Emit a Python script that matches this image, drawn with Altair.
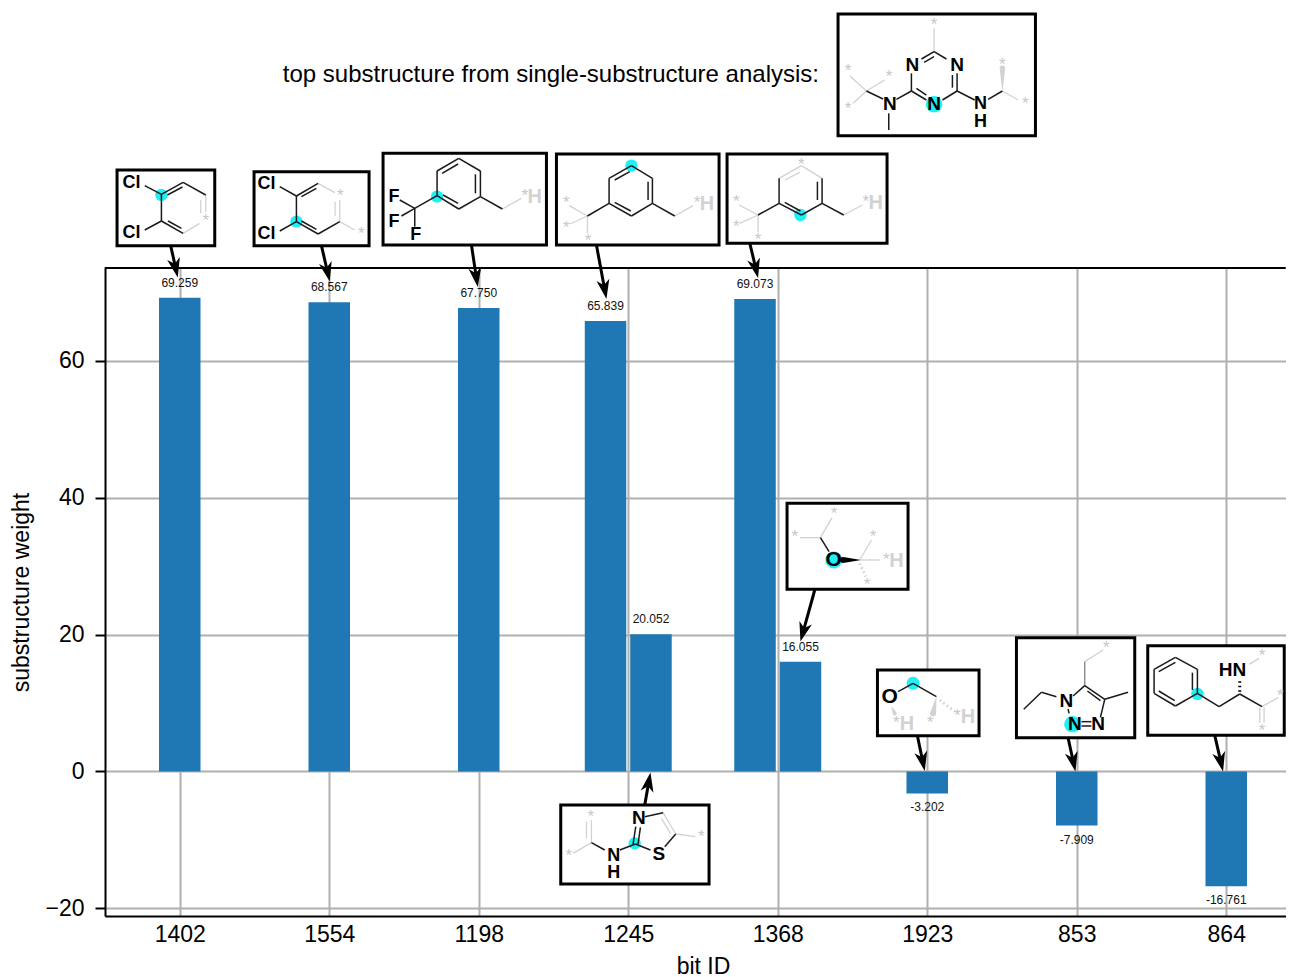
import json
import math
import altair as alt
import pandas as pd

# ---------- chart values ----------
BIT_IDS = ["1402", "1554", "1198", "1245", "1368", "1923", "853", "864"]
BAR_TICK = [0, 1, 2, 3, 3, 4, 4, 5, 6, 7]
BAR_SLOT = [0, 0, 0, -1, 1, -1, 1, 0, 0, 0]
BAR_VALUES = [69.259, 68.567, 67.750, 65.839, 20.052, 69.073, 16.055, -3.202, -7.909, -16.761]
Y_TICKS = [-20, 0, 20, 40, 60]
TITLE = "top substructure from single-substructure analysis:"

# ---------- page <-> data mapping ----------
def dx(p):
    return (p - 180) / 149.5

def dy(p):
    return (771.5 - p) / 6.842

x_scale = alt.Scale(domain=[-0.5, 7.3997], nice=False, zero=False, padding=0)
y_scale = alt.Scale(domain=[-21.12, 73.59], nice=False, zero=False, padding=0)
x_axis = alt.Axis(values=list(range(len(BIT_IDS))), labelExpr=json.dumps(BIT_IDS) + "[datum.value]",
                  grid=True, ticks=False, title="bit ID", labelPadding=7, titleY=39, titleX=598)
y_axis = alt.Axis(values=Y_TICKS, grid=True, title="substructure weight", tickSize=10, labelPadding=11,
                  titleX=-72)
INK, PALE, MID = "#000000", "#d2d2d2", "#8c8c8c"

# ---------- inset frames (page pixels) ----------
BOXES = [
    (117.3, 170, 215, 245.7), (254.3, 171.7, 369.3, 245.7), (383.3, 153.3, 546.7, 245),
    (556.7, 154, 719.3, 245), (727.3, 154, 887.3, 243.3), (838.3, 14, 1035.7, 135.7),
    (561, 805, 709.3, 884), (787.3, 503.3, 908.3, 589.3), (877.7, 670, 979.3, 735.7),
    (1016.7, 637.7, 1135, 737.7), (1148, 645.7, 1284.5, 735.3),
]
ARROWS = [
    (171, 246, 178, 277.5), (321.7, 245.7, 330, 281.5), (471.7, 245, 478, 287),
    (596.7, 245, 606.7, 299), (750, 243, 758.3, 278), (815, 590, 800.7, 641.5),
    (917.7, 736, 925, 771), (1068.3, 737.7, 1075.7, 771.5), (1215, 735.3, 1223.3, 771.5),
    (645, 805, 650.7, 772.5),
]

# ---------- molecule drawings, in 3x crop pixels ----------
ORIGIN_A = (100, 145)
DARK_A = [
    (135, 122, 185, 148), (185, 148, 250, 112), (203, 150, 248, 126), (250, 112, 318, 150),
    (185, 148, 185, 228), (185, 228, 250, 265), (205, 228, 245, 250), (135, 255, 185, 228),
    (540, 125, 590, 153), (590, 153, 655, 115), (605, 155, 650, 130), (590, 153, 590, 230),
    (590, 230, 655, 267), (605, 228, 650, 253), (655, 267, 720, 230), (540, 258, 590, 230),
    (1012, 152, 1012, 78), (1012, 78, 1077, 40), (1027, 85, 1075, 57), (1077, 40, 1142, 78),
    (1142, 78, 1142, 155), (1127, 88, 1127, 145), (1142, 155, 1077, 192), (1077, 192, 1012, 152),
    (1030, 150, 1075, 175), (945, 190, 1012, 152), (900, 165, 945, 190), (905, 213, 945, 190),
    (945, 190, 945, 245), (1142, 155, 1208, 192),
]
PALE_A = [
    (318, 150, 318, 200), (303, 165, 303, 205), (300, 235, 250, 265),
    (655, 115, 705, 143), (720, 165, 720, 230), (706, 170, 706, 212), (720, 230, 765, 255),
    (1208, 192, 1265, 160),
]
ATOMS_A = [
    (95, 115, "Cl", 18, INK), (95, 265, "Cl", 18, INK),
    (500, 118, "Cl", 18, INK), (500, 268, "Cl", 18, INK),
    (883, 155, "F", 18, INK), (883, 230, "F", 18, INK), (948, 270, "F", 18, INK),
    (1305, 155, "H", 20, PALE),
]
STARS_A = [(318, 218), (722, 145), (785, 257), (1275, 145)]
HALOS_A = [(185, 150, 7), (590, 230, 7), (1012, 155, 7)]

ORIGIN_B = (550, 145)
DARK_B = [
    (178, 100, 245, 62), (245, 62, 308, 100), (308, 100, 308, 175), (308, 175, 245, 213),
    (245, 213, 178, 175), (178, 175, 178, 100), (195, 105, 240, 80), (295, 110, 295, 165),
    (195, 172, 243, 198), (308, 175, 375, 213), (178, 175, 113, 213),
    (688, 100, 688, 175), (817, 100, 817, 175), (803, 110, 803, 165), (817, 175, 755, 210),
    (755, 210, 688, 175), (705, 172, 752, 198), (817, 175, 882, 210), (688, 175, 625, 210),
]
PALE_B = [
    (375, 213, 430, 182), (113, 213, 58, 182), (113, 213, 60, 237), (113, 213, 113, 265),
    (688, 100, 755, 62), (755, 62, 817, 100), (705, 105, 750, 82), (882, 210, 938, 180),
    (625, 210, 568, 180), (625, 210, 570, 235), (625, 210, 625, 262),
]
ATOMS_B = [(472, 178, "H", 20, PALE), (978, 175, "H", 20, PALE)]
STARS_B = [(442, 165), (50, 165), (50, 240), (115, 280), (948, 163), (755, 50), (560, 162), (560, 237), (625, 275)]
HALOS_B = [(245, 62, 7), (752, 210, 7)]

ORIGIN_C = (830, 5)
DARK_C = [
    (313, 140, 350, 162), (313, 140, 275, 162), (283, 172, 313, 155), (245, 205, 245, 258),
    (382, 205, 382, 258), (368, 210, 368, 248), (245, 258, 290, 285), (260, 250, 290, 270),
    (382, 258, 338, 285), (245, 258, 200, 283), (160, 282, 110, 258), (177, 325, 177, 375),
    (382, 258, 435, 285), (475, 283, 518, 258),
]
PALE_C = [
    (313, 70, 313, 140), (110, 258, 60, 212), (110, 258, 165, 225), (110, 258, 70, 295),
    (518, 258, 565, 285),
]
ATOMS_C = [
    (248, 180, "N", 19, INK), (382, 180, "N", 19, INK), (313, 298, "N", 19, INK),
    (180, 298, "N", 19, INK), (452, 296, "N", 18, INK), (452, 351, "H", 18, INK),
]
STARS_C = [(313, 50), (55, 190), (178, 207), (55, 302), (518, 170), (587, 287)]
HALOS_C = [(313, 298, 9.3)]

ORIGIN_D = (550, 770)
DARK_D = [
    (250, 222, 258, 170), (265, 222, 272, 172), (285, 140, 340, 128), (257, 222, 302, 240),
    (210, 240, 257, 222), (125, 218, 165, 240), (378, 192, 345, 230),
]
PALE_D = [
    (340, 128, 378, 192), (335, 145, 362, 190), (378, 192, 437, 200), (125, 218, 125, 150),
    (125, 218, 70, 250), (110, 155, 110, 205),
]
ATOMS_D = [
    (267, 145, "N", 19, INK), (327, 252, "S", 19, INK), (192, 259, "N", 18, INK), (192, 308, "H", 18, INK),
]
STARS_D = [(455, 192), (123, 132), (57, 248)]
HALOS_D = [(255, 220, 7)]

ORIGIN_E = (780, 495)
DARK_E = [(122, 128, 148, 170), (355, 590, 400, 565), (400, 565, 470, 605)]
PALE_E = [(122, 128, 60, 128), (122, 128, 157, 68), (240, 195, 300, 195), (240, 195, 275, 135)]
ATOMS_E = [
    (162, 195, "O", 21, INK), (350, 197, "H", 20, PALE), (330, 607, "O", 21, INK),
    (565, 667, "H", 20, PALE), (382, 688, "H", 20, PALE),
]
STARS_E = [(45, 117), (163, 48), (280, 117), (320, 185), (262, 260), (452, 675), (533, 655), (350, 675)]
HALOS_E = [(162, 195, 9.5), (400, 565, 7.3)]

ORIGIN_F = (1010, 630)
DARK_F = [
    (190, 198, 225, 167), (225, 167, 285, 208), (233, 183, 272, 212), (285, 208, 272, 262),
    (215, 275, 245, 275), (215, 288, 245, 288), (175, 237, 178, 250), (285, 208, 355, 187),
    (140, 200, 95, 187), (95, 187, 42, 238),
    (563, 190, 563, 118), (563, 118, 497, 82), (497, 82, 433, 118), (433, 118, 433, 190),
    (433, 190, 497, 228), (497, 228, 563, 190), (447, 125, 497, 97), (447, 183, 495, 212),
    (548, 128, 548, 180), (563, 190, 628, 230), (628, 230, 690, 192), (690, 192, 757, 230),
]
MID_F = [(225, 167, 225, 95)]
PALE_F = [
    (225, 95, 280, 60), (757, 230, 805, 203), (750, 232, 750, 278), (763, 232, 763, 278), (718, 103, 748, 85),
]
ATOMS_F = [
    (170, 212, "N", 19, INK), (195, 282, "N", 19, INK), (265, 282, "N", 19, INK), (668, 120, "HN", 19, INK),
]
STARS_F = [(290, 45), (812, 188), (757, 293), (757, 70)]
HALOS_F = [(188, 283, 9.3), (563, 192, 7)]

# wedge bonds: crop, x1, y1, width1, x2, y2, width2, colour
WEDGES = [
    (ORIGIN_C, 518, 258, 0.3, 518, 190, 5.5, PALE),
    (ORIGIN_E, 190, 195, 6, 240, 195, 0.3, INK),
    (ORIGIN_E, 470, 605, 0.3, 460, 655, 6, PALE),
    (ORIGIN_E, 335, 635, 0.3, 345, 655, 4, PALE),
]
# hashed bonds: crop, x1, y1, x2, y2, colour
HASHES = [
    (ORIGIN_E, 240, 205, 258, 245, PALE),
    (ORIGIN_E, 480, 615, 525, 650, PALE),
    (ORIGIN_F, 690, 185, 690, 145, INK),
]

CROPS = [
    (ORIGIN_A, DARK_A, PALE_A, [], ATOMS_A, STARS_A, HALOS_A),
    (ORIGIN_B, DARK_B, PALE_B, [], ATOMS_B, STARS_B, HALOS_B),
    (ORIGIN_C, DARK_C, PALE_C, [], ATOMS_C, STARS_C, HALOS_C),
    (ORIGIN_D, DARK_D, PALE_D, [], ATOMS_D, STARS_D, HALOS_D),
    (ORIGIN_E, DARK_E, PALE_E, [], ATOMS_E, STARS_E, HALOS_E),
    (ORIGIN_F, DARK_F, PALE_F, MID_F, ATOMS_F, STARS_F, HALOS_F),
]

# ---------- tables ----------
bars = pd.DataFrame({"tick": BAR_TICK, "slot": BAR_SLOT, "value": BAR_VALUES})
bars["pos"] = bars["tick"] + bars["slot"] * 0.152
bars["label"] = bars["value"].map(lambda v: f"{v:.3f}")

bond_rows, atom_rows, star_rows, halo_rows = [], [], [], []
for (ox, oy), dark, pale, mid, atoms, stars, halos in CROPS:
    for group, colour, w in ((pale, PALE, 1.3), (mid, MID, 1.4), (dark, "#1a1a1a", 1.5)):
        for a, b, c, d in group:
            bond_rows.append(dict(x=dx(ox + a / 3), y=dy(oy + b / 3), x2=dx(ox + c / 3), y2=dy(oy + d / 3), c=colour, w=w))
    for a, b, t, s, c in atoms:
        atom_rows.append(dict(x=dx(ox + a / 3), y=dy(oy + b / 3), t=t, s=s, c=c))
    for a, b in stars:
        star_rows.append(dict(x=dx(ox + a / 3), y=dy(oy + b / 3), t="*"))
    for a, b, r in halos:
        halo_rows.append(dict(x=dx(ox + a / 3), y=dy(oy + b / 3), s=math.pi * r * r))

wedge_rows = []
for i, ((ox, oy), a, b, w1, c, d, w2, col) in enumerate(WEDGES):
    wedge_rows.append(dict(id=i, o=0, x=dx(ox + a / 3), y=dy(oy + b / 3), w=w1, c=col))
    wedge_rows.append(dict(id=i, o=1, x=dx(ox + c / 3), y=dy(oy + d / 3), w=w2, c=col))
hash_rows = [
    dict(x=dx(ox + a / 3), y=dy(oy + b / 3), x2=dx(ox + c / 3), y2=dy(oy + d / 3), c=col)
    for (ox, oy), a, b, c, d, col in HASHES
]
box_rows = [dict(x=dx(a), y=dy(b), x2=dx(c), y2=dy(d)) for a, b, c, d in BOXES]
shaft_rows, head_rows = [], []
for a, b, c, d in ARROWS:
    L = math.hypot(c - a, d - b)
    ux, uy = (c - a) / L, (d - b) / L
    shaft_rows.append(dict(x=dx(a), y=dy(b), x2=dx(c - ux * 10), y2=dy(d - uy * 10)))
    head_rows.append(dict(x=dx(c), y=dy(d), a=math.degrees(math.atan2(ux, -uy)) % 360))


def X(field="x"):
    return alt.X(f"{field}:Q", scale=x_scale, axis=x_axis)


def Y(field="y"):
    return alt.Y(f"{field}:Q", scale=y_scale, axis=y_axis)


FONT = "Liberation Sans"

bar_layer = alt.Chart(bars).mark_bar(size=41.5, color="#1f77b4").encode(x=X("pos"), y=Y("value"))
label_up = alt.Chart(bars[bars["value"] > 0]).mark_text(
    font=FONT, fontSize=12, dy=-15, color="#111111", baseline="middle"
).encode(x=X("pos"), y=Y("value"), text="label:N")
label_down = alt.Chart(bars[bars["value"] < 0]).mark_text(
    font=FONT, fontSize=12, dy=14, color="#111111", baseline="middle"
).encode(x=X("pos"), y=Y("value"), text="label:N")

top_spine = alt.Chart(pd.DataFrame([dict(x=dx(105), x2=dx(1286), y=dy(268))])).mark_rule(
    color="black", strokeWidth=2
).encode(x=X(), x2="x2:Q", y=Y())

frames = alt.Chart(pd.DataFrame(box_rows)).mark_rect(
    fill="white", stroke="black", strokeWidth=3
).encode(x=X(), x2="x2:Q", y=Y(), y2="y2:Q")
halo_layer = alt.Chart(pd.DataFrame(halo_rows)).mark_circle(color="#1ff0f5", opacity=1).encode(
    x=X(), y=Y(), size=alt.Size("s:Q", scale=None)
)
bond_layer = alt.Chart(pd.DataFrame(bond_rows)).mark_rule().encode(
    x=X(), x2="x2:Q", y=Y(), y2="y2:Q",
    color=alt.Color("c:N", scale=None), strokeWidth=alt.StrokeWidth("w:Q", scale=None),
)
wedge_layer = alt.Chart(pd.DataFrame(wedge_rows)).mark_trail().encode(
    x=X(), y=Y(), detail="id:N", order="o:Q",
    size=alt.Size("w:Q", scale=None), color=alt.Color("c:N", scale=None),
)
hash_layer = alt.Chart(pd.DataFrame(hash_rows)).mark_rule(strokeWidth=3, strokeDash=[1.5, 3]).encode(
    x=X(), x2="x2:Q", y=Y(), y2="y2:Q", color=alt.Color("c:N", scale=None),
)
atom_layer = alt.Chart(pd.DataFrame(atom_rows)).mark_text(
    font=FONT, fontWeight="bold", baseline="middle", align="center"
).encode(
    x=X(), y=Y(), text="t:N", size=alt.Size("s:Q", scale=None), color=alt.Color("c:N", scale=None),
)
star_layer = alt.Chart(pd.DataFrame(star_rows)).mark_text(
    font=FONT, fontSize=17, baseline="middle", align="center", dy=3, color="#c8c8c8"
).encode(x=X(), y=Y(), text="t:N")
shaft_layer = alt.Chart(pd.DataFrame(shaft_rows)).mark_rule(color="black", strokeWidth=3).encode(
    x=X(), x2="x2:Q", y=Y(), y2="y2:Q"
)
head_layer = alt.Chart(pd.DataFrame(head_rows)).mark_point(
    shape="M0,0 L0.65,1.95 L0,1.4 L-0.65,1.95 Z", filled=True, color="black", opacity=1, size=400
).encode(x=X(), y=Y(), angle=alt.Angle("a:Q", scale=None))
title_layer = alt.Chart(pd.DataFrame([dict(x=dx(283), y=dy(75), t=TITLE)])).mark_text(
    font=FONT, fontSize=24, align="left", baseline="middle", color="black"
).encode(x=X(), y=Y(), text="t:N")

chart = alt.layer(
    bar_layer, label_up, label_down, top_spine, shaft_layer, head_layer, frames, halo_layer,
    bond_layer, wedge_layer, hash_layer, atom_layer, star_layer, title_layer,
).properties(
    width=1181, height=648,
    autosize=alt.AutoSizeParams(type="none"),
    padding={"left": 97, "top": 260, "right": 0, "bottom": 61},
).configure_view(stroke=None).configure_axis(
    labelFont=FONT, titleFont=FONT, labelFontSize=23, titleFontSize=23, titleFontWeight="normal",
    labelColor="black", titleColor="black", domainColor="black", domainWidth=2,
    tickColor="black", tickWidth=2, gridColor="#b0b0b0", gridWidth=2, gridOpacity=1,
)

chart.save("out.html", embed_options={"renderer": "svg", "actions": False})
